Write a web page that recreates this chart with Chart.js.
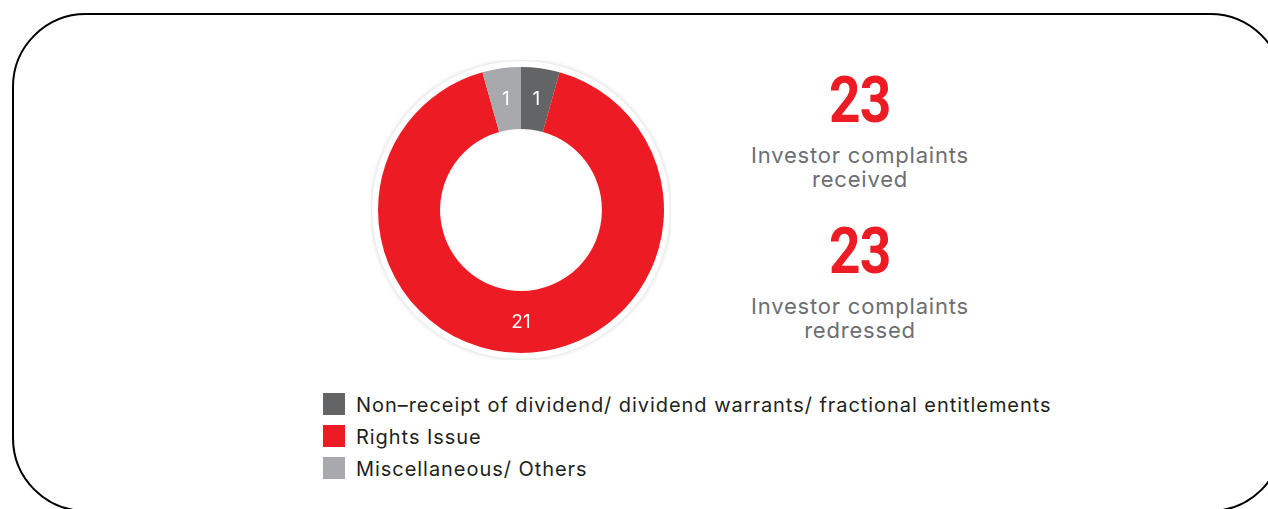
<!DOCTYPE html>
<html>
<head>
<meta charset="utf-8">
<script src="https://cdn.jsdelivr.net/npm/chart.js@4.4.1/dist/chart.umd.min.js"></script>
<style>
  html, body { margin: 0; padding: 0; background: #fff; width: 1268px; height: 509px; overflow: hidden; }
  body { position: relative; font-family: Inter, "Noto Sans", sans-serif; }
  .frame {
    position: absolute; left: 12px; top: 13px; width: 1272px; height: 499px;
    border: 2px solid #000; border-radius: 74px; box-sizing: border-box;
  }
  #donutWrap { position: absolute; left: 371px; top: 60px; width: 300px; height: 300px; }
  .stat { position: absolute; left: 730px; width: 260px; text-align: center; color: #6d6e71; font-size: 22px; line-height: 24px; letter-spacing: 0.8px; }
  .stat .num {
    color: #ED1C24; font-family: Roboto, sans-serif; font-weight: 700; font-size: 64px; line-height: 60px;
    display: inline-block; transform: scaleX(0.86); letter-spacing: -1px;
  }
  .stat .cap { margin-top: 12px; }
  #legend { position: absolute; left: 323px; top: 393px; font-size: 20px; color: #231f20; letter-spacing: 0.95px; }
  #legend .row { height: 32px; display: flex; align-items: flex-start; }
  #legend .box { width: 22px; height: 22px; margin-right: 11px; }
  #legend .txt { line-height: 24px; }
</style>
</head>
<body>
<div class="frame"></div>
<div id="donutWrap"><canvas id="donut"></canvas></div>

<div class="stat" style="top:71px"><div class="num" id="recvNum"></div><div class="cap">Investor complaints<br>received</div></div>
<div class="stat" style="top:222px"><div class="num" id="redrNum"></div><div class="cap">Investor complaints<br>redressed</div></div>

<div id="legend"></div>

<script>
// complaint categories and counts
const categories = [
  'Non\u2013receipt of dividend/ dividend warrants/ fractional entitlements',
  'Rights Issue',
  'Miscellaneous/ Others'
];
const complaintCounts = [1, 21, 1];
const sliceColors = ['#636466', '#ED1C24', '#A7A9AC'];

const complaintsReceived = 23;
const complaintsRedressed = 23;

document.getElementById('recvNum').textContent = complaintsReceived;
document.getElementById('redrNum').textContent = complaintsRedressed;

// legend
const legendEl = document.getElementById('legend');
categories.forEach((name, i) => {
  const row = document.createElement('div');
  row.className = 'row';
  row.innerHTML = '<div class="box" style="background:' + sliceColors[i] + '"></div><div class="txt"></div>';
  row.querySelector('.txt').textContent = name;
  legendEl.appendChild(row);
});

// white halo ring behind the doughnut, values written on each slice
const ringAndLabels = {
  id: 'ringAndLabels',
  beforeDatasetsDraw(chart) {
    const arc = chart.getDatasetMeta(0).data[0];
    const ctx = chart.ctx;
    ctx.save();
    ctx.beginPath();
    ctx.arc(arc.x, arc.y, arc.outerRadius + 6, 0, Math.PI * 2);
    ctx.fillStyle = '#fff';
    ctx.shadowColor = 'rgba(0,0,0,0.18)';
    ctx.shadowBlur = 5;
    ctx.fill();
    ctx.restore();
  },
  afterDatasetsDraw(chart) {
    const ctx = chart.ctx;
    const meta = chart.getDatasetMeta(0);
    const first = meta.data[0];
    // faint shading inside the hole
    ctx.save();
    ctx.beginPath();
    ctx.arc(first.x, first.y, first.innerRadius, 0, Math.PI * 2);
    ctx.clip();
    ctx.beginPath();
    ctx.arc(first.x, first.y, first.innerRadius + 4, 0, Math.PI * 2);
    ctx.strokeStyle = 'rgba(0,0,0,0.25)';
    ctx.lineWidth = 4;
    ctx.shadowColor = 'rgba(0,0,0,0.3)';
    ctx.shadowBlur = 6;
    ctx.stroke();
    ctx.restore();

    ctx.save();
    ctx.fillStyle = '#fff';
    ctx.font = '19px Inter, "Noto Sans", sans-serif';
    ctx.textAlign = 'center';
    ctx.textBaseline = 'middle';
    meta.data.forEach((a, i) => {
      const mid = (a.startAngle + a.endAngle) / 2;
      const r = (a.innerRadius + a.outerRadius) / 2;
      ctx.fillText(String(complaintCounts[i]), a.x + Math.cos(mid) * r, a.y + Math.sin(mid) * r);
    });
    ctx.restore();
  }
};

new Chart(document.getElementById('donut'), {
  type: 'doughnut',
  data: {
    labels: categories,
    datasets: [{
      data: complaintCounts,
      backgroundColor: sliceColors,
      borderWidth: 0
    }]
  },
  options: {
    responsive: true,
    maintainAspectRatio: false,
    animation: false,
    cutout: '56.6%',
    layout: { padding: 7 },
    plugins: {
      legend: { display: false },
      tooltip: { enabled: false }
    }
  },
  plugins: [ringAndLabels]
});
</script>
</body>
</html>
